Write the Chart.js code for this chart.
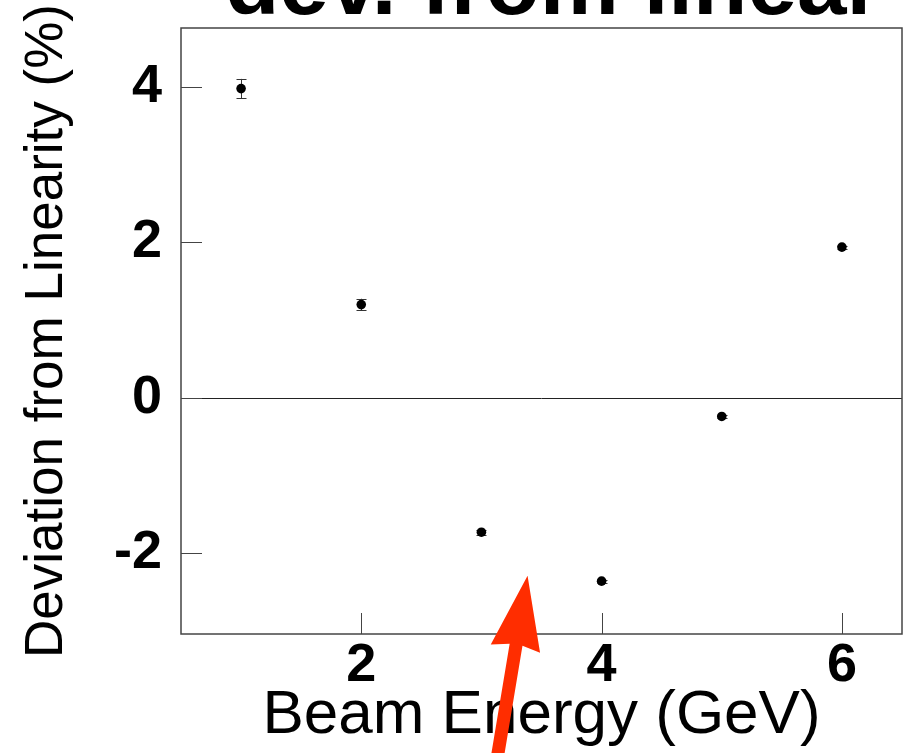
<!DOCTYPE html>
<html><head><meta charset="utf-8">
<script src="https://cdn.jsdelivr.net/npm/chart.js@4"></script>
<style>html,body{margin:0;padding:0;background:#fff}</style>
</head><body>
<canvas id="c" width="903" height="753"></canvas>
<script>
const energies = [1, 2, 3, 4, 5, 6];
const deviations = [3.98, 1.20, -1.73, -2.36, -0.24, 1.94];
const errors = [0.125, 0.075, 0.03, 0.02, 0.02, 0.02];
const xTicks = [2, 4, 6];
const yTicks = [-2, 0, 2, 4];
const titleText = 'dev. from linear';
const xTitle = 'Beam Energy (GeV)';
const yTitle = 'Deviation from Linearity (%)';
const arrowTail = {x: 3.13, y: -4.65};
const arrowTip = {x: 3.384, y: -2.29};

const FAM = "'Liberation Sans', Arial, Helvetica, sans-serif";

const framePlugin = {
  id: 'frame',
  afterDraw(chart) {
    const {ctx, chartArea: a, scales: {x, y}} = chart;
    ctx.save();
    ctx.strokeStyle = '#222';
    ctx.lineWidth = 1;
    const y0 = Math.round(y.getPixelForValue(0)) + 0.5;
    ctx.beginPath(); ctx.moveTo(a.left, y0); ctx.lineTo(a.right, y0); ctx.stroke();
    ctx.strokeStyle = '#444';
    ctx.lineWidth = 1;
    yTicks.forEach(v => {
      const p = Math.round(y.getPixelForValue(v)) + 0.5;
      ctx.beginPath(); ctx.moveTo(a.left, p); ctx.lineTo(a.left + 21, p); ctx.stroke();
    });
    xTicks.forEach(v => {
      const p = Math.round(x.getPixelForValue(v)) + 0.5;
      ctx.beginPath(); ctx.moveTo(p, a.bottom); ctx.lineTo(p, a.bottom - 21); ctx.stroke();
    });
    ctx.strokeStyle = '#444';
    ctx.lineWidth = 1.5;
    ctx.strokeRect(a.left, a.top, a.right - a.left, a.bottom - a.top);
    ctx.restore();
  }
};

const errorPlugin = {
  id: 'errs',
  beforeDatasetsDraw(chart) {
    const {ctx, scales: {x, y}} = chart;
    ctx.save();
    ctx.strokeStyle = '#333';
    ctx.lineWidth = 1;
    energies.forEach((e, i) => {
      const px = Math.round(x.getPixelForValue(e)) + 0.5;
      const top = y.getPixelForValue(deviations[i] + errors[i]);
      const bot = y.getPixelForValue(deviations[i] - errors[i]);
      ctx.beginPath();
      ctx.moveTo(px, top); ctx.lineTo(px, bot);
      ctx.moveTo(px - 5, Math.round(top) + 0.5); ctx.lineTo(px + 5, Math.round(top) + 0.5);
      ctx.moveTo(px - 5, Math.round(bot) + 0.5); ctx.lineTo(px + 5, Math.round(bot) + 0.5);
      ctx.stroke();
    });
    ctx.restore();
  }
};

const arrowPlugin = {
  id: 'arrow',
  afterDraw(chart) {
    const {ctx, scales: {x, y}} = chart;
    const tx = x.getPixelForValue(arrowTail.x), ty = y.getPixelForValue(arrowTail.y);
    const hx = x.getPixelForValue(arrowTip.x), hy = y.getPixelForValue(arrowTip.y);
    const dx = hx - tx, dy = hy - ty, L = Math.hypot(dx, dy);
    const ux = dx / L, uy = dy / L, nx = -uy, ny = ux;
    const headLen = 74, headHalf = 25, shaftHalf = 6.5;
    const bx = hx - ux * headLen, by = hy - uy * headLen;
    ctx.save();
    ctx.fillStyle = '#ff2d00';
    ctx.beginPath();
    ctx.moveTo(tx + nx * shaftHalf, ty + ny * shaftHalf);
    ctx.lineTo(bx + ux * 4 + nx * shaftHalf, by + uy * 4 + ny * shaftHalf);
    ctx.lineTo(bx + nx * headHalf, by + ny * headHalf);
    ctx.lineTo(hx, hy);
    ctx.lineTo(bx - nx * headHalf, by - ny * headHalf);
    ctx.lineTo(bx + ux * 4 - nx * shaftHalf, by + uy * 4 - ny * shaftHalf);
    ctx.lineTo(tx - nx * shaftHalf, ty - ny * shaftHalf);
    ctx.closePath();
    ctx.fill();
    ctx.restore();
  }
};

const titlePlugin = {
  id: 'bigTitle',
  afterDraw(chart) {
    const {ctx} = chart;
    ctx.save();
    ctx.fillStyle = '#000';
    ctx.font = 'bold 89px ' + FAM;
    ctx.textAlign = 'center';
    ctx.textBaseline = 'alphabetic';
    ctx.fillText(titleText, 553, 14);
    ctx.restore();
  }
};

function zeroPad(s) { s.paddingTop = 0; s.paddingBottom = 0; s.paddingLeft = 0; s.paddingRight = 0; }

new Chart(document.getElementById('c'), {
  type: 'scatter',
  data: {
    datasets: [{
      data: energies.map((e, i) => ({x: e, y: deviations[i]})),
      backgroundColor: '#000',
      borderColor: '#000',
      borderWidth: 0,
      pointRadius: 4.8,
      pointHoverRadius: 4.8,
      showLine: false
    }]
  },
  options: {
    responsive: false,
    animation: false,
    devicePixelRatio: 1,
    layout: {autoPadding: false, padding: {top: 28, right: 1, left: 0, bottom: 0}},
    plugins: {legend: {display: false}, tooltip: {enabled: false}, title: {display: false}},
    scales: {
      x: {
        type: 'linear', min: 0.5, max: 6.5,
        afterBuildTicks: s => { s.ticks = xTicks.map(v => ({value: v})); },
        afterFit: s => { s.height = 119; zeroPad(s); },
        grid: {display: false, drawTicks: false},
        border: {display: false},
        ticks: {font: {family: FAM, size: 54, weight: 'bold'}, color: '#000', padding: 0, maxRotation: 0, autoSkip: false},
        title: {display: true, text: xTitle, font: {family: FAM, size: 62}, color: '#000', padding: 0}
      },
      y: {
        type: 'linear', min: -3.04, max: 4.76,
        afterBuildTicks: s => { s.ticks = yTicks.map(v => ({value: v})); },
        afterFit: s => { s.width = 181; zeroPad(s); },
        grid: {display: false, drawTicks: false},
        border: {display: false},
        ticks: {font: {family: FAM, size: 54, weight: 'bold'}, color: '#000', padding: 19, autoSkip: false},
        title: {display: true, text: yTitle, font: {family: FAM, size: 53}, color: '#000', padding: {top: 16, bottom: 0}}
      }
    }
  },
  plugins: [errorPlugin, framePlugin, arrowPlugin, titlePlugin]
});
</script>
</body></html>
